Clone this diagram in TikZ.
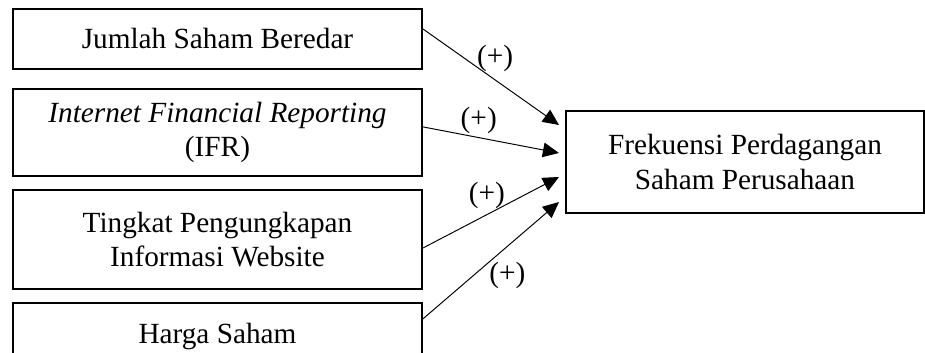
\documentclass[tikz,border=0pt]{standalone}
\usepackage{fontspec}
\setmainfont{Liberation Serif}
\usetikzlibrary{arrows.meta,positioning,calc}

\begin{document}
\begin{tikzpicture}[
  x=0.41pt,y=-0.41pt,
  font=\fontsize{12}{14}\selectfont,
  var/.style={draw,line width=.8pt,minimum width=167.7pt,align=center,inner sep=2pt},
  arr/.style={-{Triangle[length=6.6pt,width=6pt]},line width=.4pt}
]
\useasboundingbox (0,0) rectangle (925,353);

\node[var,minimum height=24.6pt,anchor=north west] (jsb) at (12,8) {Jumlah Saham Beredar};
\node[var,minimum height=35.7pt,below=7.4pt of jsb] (ifr) {\textit{Internet Financial Reporting}\\(IFR)};
\node[var,minimum height=40.6pt,below=4.9pt of ifr] (tpi) {Tingkat Pengungkapan\\Informasi Website};
\node[var,minimum height=27.9pt,below=4.9pt of tpi] (hs) {Harga Saham};

\node[var,minimum width=146.8pt,minimum height=41.8pt,anchor=north west] (fps) at (565,110) {Frekuensi Perdagangan\\Saham Perusahaan};

% arrow tips stop short of the box
\coordinate (t1) at ($(fps.north west)+(-6,15)$);
\coordinate (t2) at ($(fps.north west)+(-6,43)$);
\coordinate (t3) at ($(fps.north west)+(-6,67)$);
\coordinate (t4) at ($(fps.north west)+(-6,92)$);

\draw[arr] ([yshift=4.1pt]jsb.east) -- node[pos=.53,above]{(+)} (t1);
\draw[arr] ([yshift=2.3pt]ifr.east) -- node[pos=.41,above=-1.8pt]{(+)} (t2);
\draw[arr] ([yshift=-3.5pt]tpi.east) -- node[pos=.47,above=-1.3pt]{(+)} (t3);
\draw[arr] ([yshift=7.4pt]hs.east) -- node[pos=.62,below=3pt]{(+)} (t4);
\end{tikzpicture}
\end{document}
